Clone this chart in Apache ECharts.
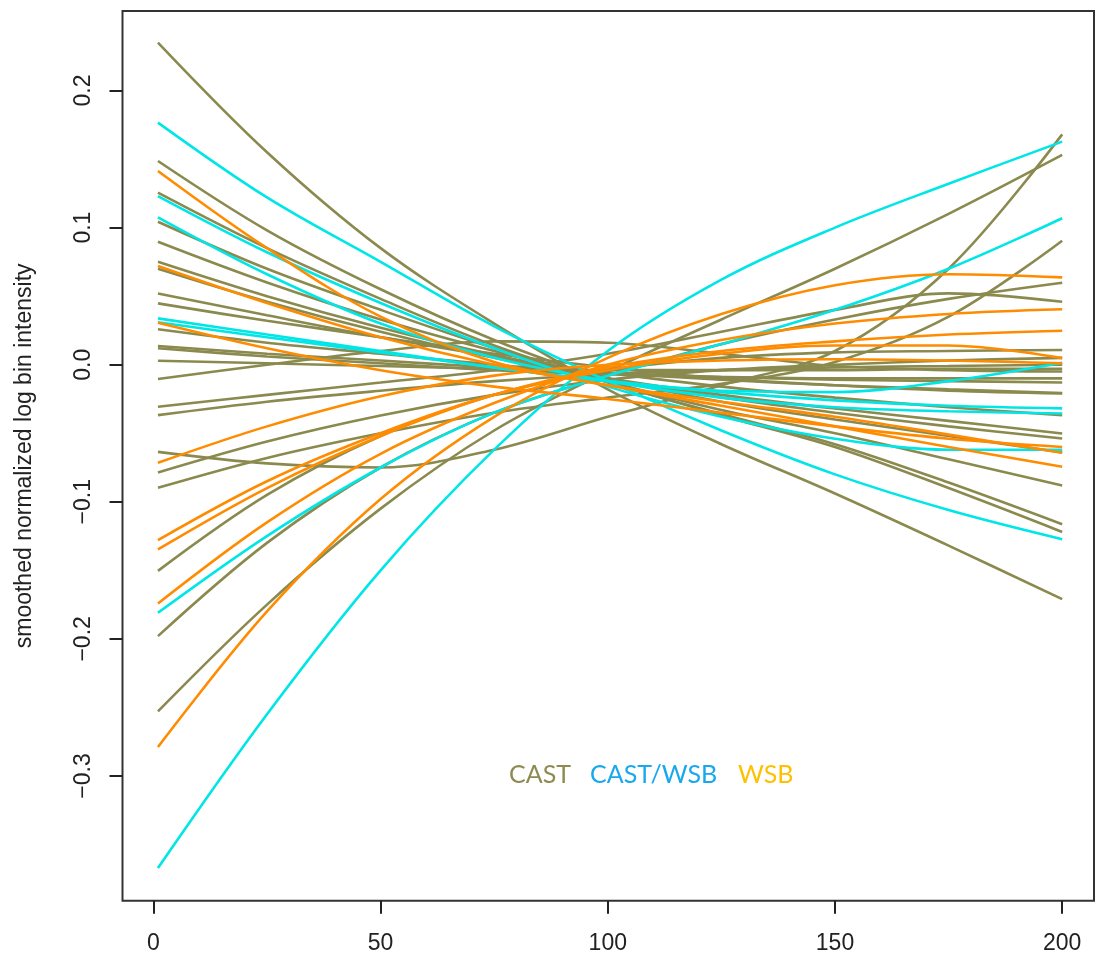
<!DOCTYPE html>
<html>
<head>
<meta charset="utf-8">
<script src="https://cdn.jsdelivr.net/npm/echarts@6/dist/echarts.min.js"></script>
<style>html,body{margin:0;padding:0;background:#fff}#c{width:1097px;height:960px}</style>
</head>
<body>
<div id="c"></div>
<script>
// x positions (bin index) at which each smoothed curve is read
const xValues = [1, 25, 50, 75, 100, 125, 150, 175, 200];

// CAST curves (olive)
const castCurves = [
  [0.235, 0.155, 0.085, 0.030, -0.018, -0.058, -0.094, -0.132, -0.171],
  [0.1486, 0.098, 0.055, 0.018, -0.012, -0.037, -0.060, -0.090, -0.122],
  [0.1255, 0.085, 0.048, 0.014, -0.013, -0.036, -0.058, -0.086, -0.1164],
  [0.1043, 0.070, 0.040, 0.012, -0.012, -0.033, -0.050, -0.069, -0.0881],
  [0.0897, 0.060, 0.033, 0.010, -0.010, -0.027, -0.040, -0.052, -0.064],
  [0.0751, 0.050, 0.027, 0.007, -0.010, -0.024, -0.035, -0.045, -0.0538],
  [0.070, 0.046, 0.024, 0.005, -0.010, -0.022, -0.032, -0.041, -0.0502],
  [0.052, 0.036, 0.020, 0.006, -0.006, -0.016, -0.024, -0.031, -0.0368],
  [0.0447, 0.032, 0.020, 0.008, -0.002, -0.010, -0.015, -0.019, -0.021],
  [0.0258, 0.016, 0.008, 0.000, -0.006, -0.011, -0.015, -0.018, -0.0207],
  [0.0136, 0.008, 0.003, -0.002, -0.006, -0.009, -0.011, -0.012, -0.013],
  [0.012, 0.006, 0.001, -0.004, -0.007, -0.009, -0.010, -0.010, -0.010],
  [0.0029, 0.001, -0.001, -0.003, -0.004, -0.004, -0.004, -0.003, -0.003],
  [-0.0105, 0.000, 0.010, 0.017, 0.016, 0.008, -0.001, -0.004, -0.005],
  [-0.0307, -0.022, -0.013, -0.004, 0.008, 0.024, 0.040, 0.052, 0.0459],
  [-0.0368, -0.027, -0.019, -0.012, -0.007, -0.004, -0.002, -0.001, 0.0],
  [-0.0636, -0.072, -0.075, -0.062, -0.038, -0.015, 0.010, 0.070, 0.168],
  [-0.0786, -0.056, -0.037, -0.022, -0.011, -0.004, 0.000, 0.003, 0.005],
  [-0.0898, -0.068, -0.050, -0.035, -0.024, -0.014, 0.002, 0.035, 0.0904],
  [-0.1504, -0.095, -0.052, -0.022, -0.004, 0.005, 0.009, 0.010, 0.0107],
  [-0.198, -0.130, -0.075, -0.035, -0.008, 0.015, 0.033, 0.048, 0.0598],
  [-0.2529, -0.175, -0.105, -0.048, -0.005, 0.033, 0.070, 0.110, 0.153]
];

// CAST/WSB curves (cyan)
const castWsbCurves = [
  [-0.3672, -0.255, -0.150, -0.062, 0.010, 0.062, 0.100, 0.132, 0.1627],
  [-0.181, -0.125, -0.075, -0.035, -0.008, 0.015, 0.040, 0.070, 0.1068],
  [0.1766, 0.122, 0.075, 0.028, -0.012, -0.048, -0.080, -0.106, -0.1273],
  [0.123, 0.082, 0.045, 0.012, -0.016, -0.038, -0.054, -0.062, -0.062],
  [0.1075, 0.066, 0.030, 0.005, -0.012, -0.024, -0.031, -0.034, -0.0356],
  [0.0338, 0.022, 0.010, -0.002, -0.012, -0.019, -0.020, -0.012, 0.0014],
  [0.031, 0.020, 0.009, -0.002, -0.012, -0.020, -0.026, -0.030, -0.0319]
];

// WSB curves (orange)
const wsbCurves = [
  [0.1413, 0.085, 0.035, 0.002, -0.015, -0.030, -0.045, -0.060, -0.0745],
  [0.072, 0.045, 0.020, 0.000, -0.015, -0.027, -0.038, -0.051, -0.0643],
  [0.0306, 0.012, -0.004, -0.016, -0.025, -0.035, -0.045, -0.054, -0.060],
  [-0.0716, -0.045, -0.023, -0.008, 0.000, 0.003, 0.004, 0.003, 0.001],
  [-0.128, -0.085, -0.050, -0.022, -0.004, 0.008, 0.014, 0.014, 0.0048],
  [-0.1348, -0.090, -0.052, -0.022, -0.002, 0.010, 0.017, 0.022, 0.0248],
  [-0.1742, -0.115, -0.065, -0.028, 0.000, 0.018, 0.030, 0.037, 0.0404],
  [-0.2789, -0.180, -0.098, -0.038, 0.005, 0.037, 0.058, 0.066, 0.0637]
];

const xTicks = [0, 50, 100, 150, 200];
const yTicks = [-0.3, -0.2, -0.1, 0.0, 0.1, 0.2];
const groupNames = ['CAST', 'CAST/WSB', 'WSB'];

const COLORS = { CAST: '#8B8A4E', 'CAST/WSB': '#00E6E6', WSB: '#FF8C00' };

function makeSeries(curves, name) {
  return curves.map(function (vals) {
    return {
      type: 'line',
      name: name,
      smooth: 0.35,
      showSymbol: false,
      silent: true,
      animation: false,
      lineStyle: { color: COLORS[name], width: 2.6 },
      data: vals.map(function (v, i) { return [xValues[i], v]; })
    };
  });
}

const series = []
  .concat(makeSeries(castCurves, 'CAST'))
  .concat(makeSeries(castWsbCurves, 'CAST/WSB'))
  .concat(makeSeries(wsbCurves, 'WSB'));

const chart = echarts.init(document.getElementById('c'), null, { renderer: 'canvas' });
const axisFont = { fontFamily: 'Liberation Sans', fontSize: 23, color: '#222' };

chart.setOption({
  backgroundColor: '#fff',
  animation: false,
  grid: {
    left: 122.5, top: 11, width: 971.5, height: 889.7,
    show: true, borderColor: '#333', borderWidth: 2, backgroundColor: 'transparent'
  },
  xAxis: {
    type: 'value', min: -6.8, max: 207,
    axisLine: { show: false, onZero: false },
    splitLine: { show: false },
    axisTick: { show: true, length: 13, lineStyle: { color: '#222', width: 2 }, customValues: xTicks },
    axisLabel: Object.assign({ margin: 31, customValues: xTicks, formatter: function (v) { return String(v); } }, axisFont)
  },
  yAxis: {
    type: 'value', min: -0.391, max: 0.258,
    name: 'smoothed normalized log bin intensity',
    nameLocation: 'middle', nameRotate: 90, nameGap: 86,
    nameTextStyle: { fontFamily: 'Liberation Sans', fontSize: 23, color: '#222' },
    axisLine: { show: false, onZero: false },
    splitLine: { show: false },
    axisTick: { show: true, length: 13, lineStyle: { color: '#222', width: 2 }, customValues: yTicks },
    axisLabel: Object.assign({
      margin: 27, rotate: 90, customValues: yTicks,
      formatter: function (v) { return (v < 0 ? '\u2212' : '') + Math.abs(v).toFixed(1); }
    }, axisFont)
  },
  graphic: [
    { type: 'text', left: 509, top: 762, style: { text: groupNames[0], fill: '#8E8A50', font: '25px Lato' } },
    { type: 'text', left: 590, top: 762, style: { text: groupNames[1], fill: '#1AA8EC', font: '25px Lato' } },
    { type: 'text', left: 738, top: 762, style: { text: groupNames[2], fill: '#FFC000', font: '25px Lato' } }
  ],
  series: series
});
</script>
</body>
</html>
